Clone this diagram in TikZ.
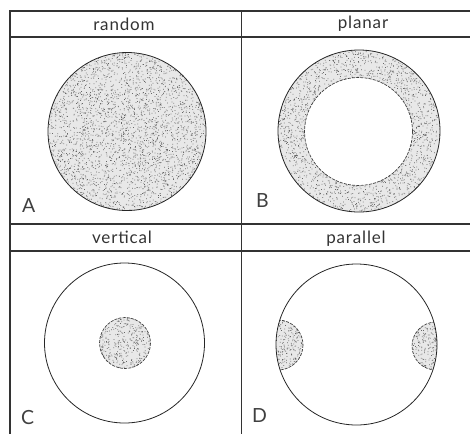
\documentclass[tikz,border=0pt]{standalone}
\usepackage{fontspec}
\setmainfont{Lato}[LetterSpace=5]
\newfontfamily\labfont{Lato}
\begin{document}
\begin{tikzpicture}[x=1pt,y=-1pt,
  frame/.style={line width=1.1pt,draw=black!80},
  rim/.style={line width=0.8pt,draw=black!85},
  dashrim/.style={line width=0.7pt,draw=black!75,dash pattern=on 3pt off 1.2pt},
  ttl/.style={font=\fontsize{17}{17}\selectfont,text=black!80,inner sep=0pt},
  lab/.style={font=\labfont\fontsize{19.5}{19.5}\selectfont,text=black!75,inner sep=0pt,anchor=base west},
  dotc/.style={fill=black!60},
  tone/.style={fill=black!9}]
\useasboundingbox (0,0) rectangle (470,434);
\pgfmathsetseed{7}
% stipple macro: cx cy halfwidth n  (chunks of 100 dots per path)
\newcommand\mystipple[4]{%
  \pgfmathtruncatemacro\nchunk{#4/100}%
  \foreach \k in {1,...,\nchunk}{%
    \fill[dotc] \foreach \i in {1,...,100}{ ({#1+#3*rand},{#2+#3*rand}) rectangle +(0.75pt,0.75pt) };}}
% ---------- A
\begin{scope}
  \clip (127,131.5) circle (79);
  \fill[tone] (127,131.5) circle (79);
  \mystipple{127}{131.5}{79}{3600}
\end{scope}
\draw[rim] (127,131.5) circle (79);
% ---------- B
\begin{scope}
  \clip (359,131) circle (81);
  \fill[tone,even odd rule] (359,131) circle (81) (358.5,131.5) circle (54);
  \begin{scope}[even odd rule]
    \clip (278,50) rectangle (440,212) (358.5,131.5) circle (54);
    \mystipple{359}{131}{81}{3500}
  \end{scope}
\end{scope}
\draw[rim] (359,131) circle (81);
\draw[dashrim] (358.5,131.5) circle (54);
% ---------- C
\draw[rim] (124.5,343) circle (80);
\begin{scope}
  \clip (125,343) circle (25.5);
  \fill[tone] (125,343) circle (25.5);
  \mystipple{125}{343}{25.5}{400}
\end{scope}
\draw[dashrim] (125,343) circle (25.5);
% ---------- D
\begin{scope}
  \clip (356.5,344.5) circle (80.5);
  \begin{scope}
    \clip (278,345) circle (25);
    \fill[tone] (278,345) circle (25);
    \mystipple{278}{345}{25}{400}
  \end{scope}
  \begin{scope}
    \clip (436,346) circle (24);
    \fill[tone] (436,346) circle (24);
    \mystipple{436}{346}{24}{400}
  \end{scope}
  \draw[dashrim] (278,345) circle (25);
  \draw[dashrim] (436,346) circle (24);
\end{scope}
\draw[rim] (356.5,344.5) circle (80.5);
% ---------- frame
\draw[frame] (470,11) -- (10,11) -- (10,434);
\draw[frame] (241.5,11) -- (241.5,434);
\draw[frame] (10,37) -- (470,37);
\draw[frame] (10,224) -- (470,224);
\draw[frame] (10,251) -- (470,251);
% ---------- titles
\node[ttl] (tA) at (124,24) {random};
\node[ttl] (tB) at (363,24) {planar};
\node[ttl] (tC) at (122,237.5) {vertical};
\node[ttl] (tD) at (356,238.5) {parallel};
% ---------- letters
\node[lab] (lA) at (22,212) {A};
\node[lab] (lB) at (256,207) {B};
\node[lab] (lC) at (21,424) {C};
\node[lab] (lD) at (252,422) {D};
\end{tikzpicture}
\end{document}
